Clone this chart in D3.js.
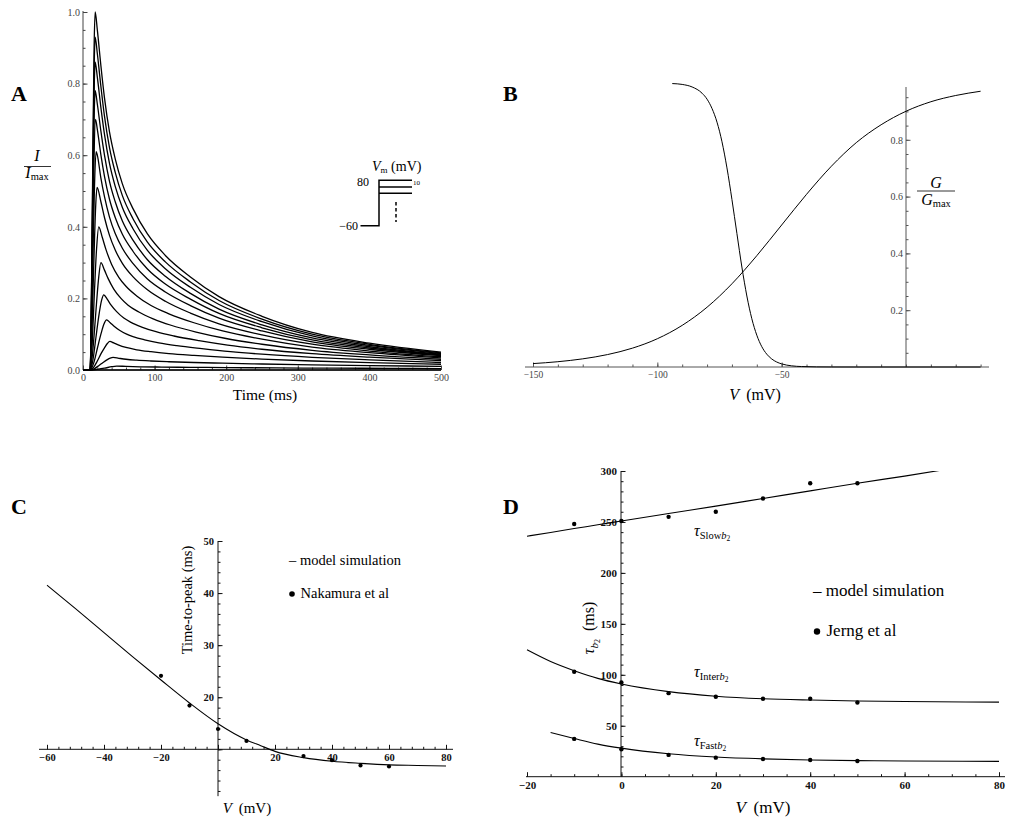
<!DOCTYPE html>
<html><head><meta charset="utf-8">
<script src="https://cdn.jsdelivr.net/npm/d3@7"></script>
<style>
body{margin:0;background:#fff}
svg{font-family:"Liberation Serif","Times New Roman",serif}
</style></head><body>
<svg id="fig" width="1015" height="821"></svg>
<script>
// ---- panel A: normalised currents for steps from -60 to 80 mV ----
var stepVoltages = [80,70,60,50,40,30,20,10,0,-10,-20,-30,-40,-50,-60];
var currentTraces = [
 [[0,0],[10,0],[12,0.25],[14,0.65],[15.5,0.9],[17,1.0],[20,0.95],[25,0.85],[30,0.76],[37,0.665],[45,0.59],[55,0.52],[70,0.45],[90,0.38],[115,0.32],[150,0.26],[190,0.205],[250,0.15],[320,0.105],[400,0.075],[500,0.05]],
 [[0,0],[10,0],[12,0.233],[14,0.605],[15.5,0.837],[17,0.93],[20,0.884],[25,0.792],[30,0.709],[37,0.621],[45,0.552],[55,0.487],[70,0.422],[90,0.357],[115,0.302],[150,0.246],[190,0.194],[250,0.142],[320,0.100],[400,0.0718],[500,0.048]],
 [[0,0],[10,0],[12,0.215],[14,0.559],[15.5,0.774],[17,0.86],[20,0.818],[25,0.733],[30,0.658],[37,0.577],[45,0.513],[55,0.454],[70,0.394],[90,0.334],[115,0.283],[150,0.231],[190,0.183],[250,0.135],[320,0.095],[400,0.0686],[500,0.046]],
 [[0,0],[10,0],[12,0.195],[14,0.507],[15.5,0.702],[17,0.78],[20,0.743],[25,0.667],[30,0.600],[37,0.527],[45,0.470],[55,0.416],[70,0.362],[90,0.308],[115,0.262],[150,0.214],[190,0.170],[250,0.126],[320,0.0896],[400,0.0649],[500,0.044]],
 [[0,0],[10,0],[12,0.16],[14,0.42],[15.5,0.60],[17.5,0.70],[20,0.672],[25,0.601],[30,0.541],[37,0.477],[45,0.426],[55,0.379],[70,0.331],[90,0.282],[115,0.240],[150,0.198],[190,0.158],[250,0.118],[320,0.0843],[400,0.0615],[500,0.042]],
 [[0,0],[10,0],[12,0.12],[14,0.33],[16,0.51],[18.3,0.61],[20,0.600],[25,0.536],[30,0.484],[37,0.427],[45,0.381],[55,0.340],[70,0.297],[90,0.254],[115,0.218],[150,0.180],[190,0.145],[250,0.109],[320,0.0787],[400,0.058],[500,0.040]],
 [[0,0],[10,0],[12,0.08],[14,0.22],[16,0.36],[18,0.47],[19.6,0.51],[25,0.470],[30,0.426],[37,0.376],[45,0.335],[55,0.298],[70,0.260],[90,0.224],[115,0.192],[150,0.159],[190,0.129],[250,0.098],[320,0.072],[400,0.053],[500,0.037]],
 [[0,0],[10,0],[13,0.08],[16,0.22],[19,0.34],[22,0.40],[27,0.370],[32,0.337],[40,0.295],[50,0.259],[60,0.234],[75,0.207],[95,0.180],[120,0.157],[155,0.132],[195,0.109],[250,0.086],[320,0.064],[400,0.0485],[500,0.034]],
 [[0,0],[10,0],[13,0.04],[16,0.11],[19,0.19],[22,0.26],[25,0.30],[30,0.279],[35,0.256],[43,0.226],[53,0.200],[63,0.181],[78,0.162],[98,0.143],[123,0.125],[158,0.106],[198,0.0887],[250,0.0719],[320,0.055],[400,0.0422],[500,0.030]],
 [[0,0],[10,0],[14,0.03],[18,0.09],[22,0.15],[26,0.195],[29,0.21],[34,0.197],[39,0.182],[47,0.163],[57,0.145],[67,0.133],[82,0.120],[102,0.107],[127,0.095],[162,0.082],[202,0.0696],[250,0.058],[320,0.0457],[400,0.0358],[500,0.026]],
 [[0,0],[10,0],[15,0.02],[20,0.06],[25,0.10],[29,0.127],[33,0.14],[38,0.132],[43,0.123],[51,0.111],[61,0.100],[71,0.0925],[86,0.0844],[106,0.0758],[131,0.068],[166,0.0597],[206,0.0513],[250,0.0441],[320,0.0354],[400,0.0283],[500,0.021]],
 [[0,0],[10,0],[15,0.008],[20,0.025],[25,0.045],[30,0.062],[34,0.074],[37.5,0.08],[43,0.0756],[50,0.0695],[60,0.063],[75,0.0565],[95,0.0511],[120,0.046],[155,0.0409],[195,0.036],[250,0.0305],[320,0.0252],[400,0.0207],[500,0.016]],
 [[0,0],[10,0],[16,0.004],[22,0.012],[28,0.021],[34,0.029],[38,0.033],[42,0.035],[50,0.0327],[60,0.030],[75,0.0274],[95,0.0251],[120,0.023],[155,0.021],[195,0.019],[250,0.0167],[320,0.0144],[400,0.0124],[500,0.010]],
 [[0,0],[10,0],[20,0.002],[30,0.005],[40,0.0092],[47,0.011],[60,0.010],[80,0.009],[110,0.0082],[150,0.0074],[200,0.0067],[270,0.0059],[350,0.0051],[430,0.0046],[500,0.004]],
 [[0,0],[500,0]]
];

// ---- panel B: activation / inactivation G/Gmax ----
var actV = [-150,-140,-130,-120,-110,-100,-90,-80,-70,-60,-50,-40,-30,-20,-10,0,10,20,30];
var actG = [0.012,0.0186,0.0287,0.0438,0.0664,0.0995,0.1466,0.2105,0.293,0.392,0.5,0.608,0.707,0.79,0.853,0.9005,0.934,0.956,0.971];
var inactV = [-94,-90,-86,-82,-80,-78,-76,-74,-72,-70,-68,-66,-64,-62,-60,-58,-56,-54,-52,-50,-46,-42,-36,-30,-20,0,30];
var inactG = [0.998,0.995,0.986,0.964,0.943,0.910,0.862,0.793,0.701,0.590,0.470,0.352,0.250,0.170,0.112,0.0717,0.0453,0.0283,0.0176,0.0109,0.0041,0.0016,0.0004,0.0001,0,0,0];

// ---- panel C: time-to-peak ----
var ttpModelV = [-60,-50,-40,-30,-20,-10,0,10,15,20,30,40,50,60,70,80];
var ttpModel = [41.5,37.0,32.4,27.8,23.3,18.9,14.9,11.8,10.7,9.6,8.4,7.7,7.3,7.0,6.9,6.8];
var ttpDataV = [-20,-10,0,10,30,40,50,60];
var ttpData = [24.1,18.4,13.9,11.6,8.7,7.9,6.9,6.7];

// ---- panel D: inactivation time constants ----
var tauModelV = [-20,-15,-10,-5,0,10,20,30,40,50,60,80];
var tauSlowModel = [236,239.7,243.5,247.2,251,258.3,265.5,273,280.5,288,295,310];
var tauInterModel = [124.5,113,104,96.5,91,83.5,79,76.5,75.2,74.3,73.8,73.2];
var tauFastModel = [null,43.3,37.5,32,28,22.5,19.3,17.5,16.4,15.8,15.4,15];
var tauDataV = [-10,0,10,20,30,40,50];
var tauSlowData = [248,251,255,260,273,288,288];
var tauInterData = [103,92.5,82,78.5,76.5,76.5,72.8];
var tauFastData = [37.1,27,21.4,18.7,17.4,16.4,15.4];

var SERIF = '"Liberation Serif","Times New Roman",serif';
var svg = d3.select('#fig');
svg.append('rect').attr('width',1015).attr('height',821).attr('fill','#fff');

function minus(d){ return d < 0 ? '\u2212' + Math.abs(d) : String(d); }

// horizontal axis: ticks point up, labels below
function hAxis(x, y0, ext, minors, majors, labels, fmt, st){
	var g = svg.append('g');
	g.append('line').attr('x1',ext[0]).attr('x2',ext[1]).attr('y1',y0).attr('y2',y0)
		.attr('stroke',st.color).attr('stroke-width',st.width || 1);
	var gm = g.append('g').attr('transform','translate(0,'+y0+')')
		.call(d3.axisBottom(x).tickValues(minors).tickSize(-2.5).tickFormat(''));
	var gM = g.append('g').attr('transform','translate(0,'+y0+')')
		.call(d3.axisBottom(x).tickValues(majors).tickSize(-4.5).tickPadding(st.pad)
			.tickFormat(function(d){ return labels.indexOf(d) >= 0 ? fmt(d) : ''; }));
	[gm,gM].forEach(function(s){
		s.select('.domain').remove();
		s.selectAll('line').attr('stroke',st.color);
		s.attr('font-family',SERIF).attr('font-size',st.size);
	});
	gM.selectAll('text').attr('fill',st.text).attr('font-weight',st.bold ? 'bold' : null);
}
// vertical axis: ticks point right, labels left
function vAxis(y, x0, ext, minors, majors, labels, fmt, st){
	var g = svg.append('g');
	g.append('line').attr('y1',ext[0]).attr('y2',ext[1]).attr('x1',x0).attr('x2',x0)
		.attr('stroke',st.color).attr('stroke-width',st.width || 1);
	var gm = g.append('g').attr('transform','translate('+x0+',0)')
		.call(d3.axisLeft(y).tickValues(minors).tickSize(-2.5).tickFormat(''));
	var gM = g.append('g').attr('transform','translate('+x0+',0)')
		.call(d3.axisLeft(y).tickValues(majors).tickSize(-4.5).tickPadding(st.pad)
			.tickFormat(function(d){ return labels.indexOf(d) >= 0 ? fmt(d) : ''; }));
	[gm,gM].forEach(function(s){
		s.select('.domain').remove();
		s.selectAll('line').attr('stroke',st.color);
		s.attr('font-family',SERIF).attr('font-size',st.size);
	});
	gM.selectAll('text').attr('fill',st.text).attr('font-weight',st.bold ? 'bold' : null);
}
function range(a,b,s){ var r=[]; for(var v=a; v<=b+1e-9; v+=s) r.push(+v.toFixed(4)); return r; }
function panelLabel(t,x,y){
	svg.append('text').attr('x',x).attr('y',y).attr('font-size',22).attr('font-weight','bold').text(t);
}

var thinStyle = {color:'#444', text:'#444', size:10, pad:4};
var boldStyle = {color:'#111', text:'#111', size:10.5, pad:4, bold:true};

// ================= A =================
var xA = d3.scaleLinear().domain([0,500]).range([83,441]);
var yA = d3.scaleLinear().domain([0,1]).range([370,12]);
panelLabel('A',11,101);
hAxis(xA, 370, [83,441], range(0,500,20), range(0,500,100), range(0,500,100), String, thinStyle);
vAxis(yA, 83, [370,11], range(0,1,0.05), range(0,1,0.2), range(0,1,0.2), d3.format('.1f'), {color:'#444',text:'#444',size:10,pad:3});
var lineA = d3.line().x(function(d){return xA(d[0]);}).y(function(d){return yA(d[1]);}).curve(d3.curveMonotoneX);
svg.append('g').selectAll('path').data(currentTraces).join('path')
	.attr('d',lineA).attr('fill','none').attr('stroke','#000').attr('stroke-width',1.3);

// y title I / Imax
svg.append('text').attr('x',37).attr('y',161).attr('text-anchor','middle').attr('font-size',16).attr('font-style','italic').text('I');
svg.append('line').attr('x1',24).attr('x2',51).attr('y1',166.5).attr('y2',166.5).attr('stroke','#000').attr('stroke-width',0.8);
var ima = svg.append('text').attr('x',37).attr('y',178).attr('text-anchor','middle').attr('font-size',16);
ima.append('tspan').attr('font-style','italic').text('I');
ima.append('tspan').attr('font-size',10.5).attr('dy',2).text('max');
svg.append('text').attr('x',265).attr('y',400).attr('text-anchor','middle').attr('font-size',15.5).text('Time (ms)');

// voltage protocol inset
var vm = svg.append('text').attr('x',372).attr('y',171).attr('font-size',14);
vm.append('tspan').attr('font-style','italic').text('V');
vm.append('tspan').attr('font-size',9).attr('dy',2).text('m');
vm.append('tspan').attr('dy',-2).text(' (mV)');
svg.append('text').attr('x',357).attr('y',186).attr('font-size',12).text('80');
svg.append('text').attr('x',358).attr('y',229.5).attr('text-anchor','end').attr('font-size',12).text('\u221260');
svg.append('text').attr('x',413).attr('y',185).attr('font-size',7).text('10');
var proto = svg.append('g').attr('stroke','#000').attr('stroke-width',1.5).attr('fill','none');
proto.append('path').attr('d','M360.5,225.7H379V180.3H412');
proto.append('path').attr('d','M379,187H412');
proto.append('path').attr('d','M379,193.3H412');
proto.append('line').attr('x1',396).attr('x2',396).attr('y1',202).attr('y2',222).attr('stroke-dasharray','3.5,2.5');

// ================= B =================
var xB = d3.scaleLinear().domain([-150,0]).range([533,906]);
var yB = d3.scaleLinear().domain([0,1]).range([367,83]);
panelLabel('B',503,101);
hAxis(xB, 367, [525,989], range(-150,30,10), [-150,-100,-50], [-150,-100,-50], minus, {color:'#555',text:'#444',size:9.5,pad:4});
vAxis(yB, 906, [367,87], range(0.05,0.95,0.05), [0.2,0.4,0.6,0.8], [0.2,0.4,0.6,0.8], d3.format('.1f'), {color:'#555',text:'#444',size:10,pad:3});
var lineB = d3.line().x(function(d){return xB(d[0]);}).y(function(d){return yB(d[1]);}).curve(d3.curveMonotoneX);
svg.append('path').datum(d3.zip(actV,actG)).attr('d',lineB).attr('fill','none').attr('stroke','#000').attr('stroke-width',1);
svg.append('path').datum(d3.zip(inactV,inactG)).attr('d',lineB).attr('fill','none').attr('stroke','#000').attr('stroke-width',1);
svg.append('text').attr('x',936).attr('y',188).attr('text-anchor','middle').attr('font-size',16).attr('font-style','italic').text('G');
svg.append('line').attr('x1',917).attr('x2',955).attr('y1',191).attr('y2',191).attr('stroke','#000').attr('stroke-width',0.8);
var gma = svg.append('text').attr('x',936).attr('y',205).attr('text-anchor','middle').attr('font-size',16);
gma.append('tspan').attr('font-style','italic').text('G');
gma.append('tspan').attr('font-size',10.5).attr('dy',2).text('max');
var vb = svg.append('text').attr('x',755).attr('y',400).attr('text-anchor','middle').attr('font-size',16);
vb.append('tspan').attr('font-style','italic').text('V');
vb.append('tspan').text('\u2009 (mV)');

// ================= C =================
var xC = d3.scaleLinear().domain([-60,80]).range([47,446]);
var yC = d3.scaleLinear().domain([10,50]).range([749.3,541]);
panelLabel('C',11,514);
hAxis(xC, 749.3, [39,453], range(-60,80,4), range(-60,80,20), [-60,-40,-20,20,40,60,80], minus, boldStyle);
vAxis(yC, 218, [yC(1),541], range(2,50,2), range(10,50,10), [20,30,40,50], String, boldStyle);
var lineC = d3.line().x(function(d){return xC(d[0]);}).y(function(d){return yC(d[1]);}).curve(d3.curveMonotoneX);
svg.append('path').datum(d3.zip(ttpModelV,ttpModel)).attr('d',lineC).attr('fill','none').attr('stroke','#000').attr('stroke-width',1.1);
svg.append('g').selectAll('circle').data(d3.zip(ttpDataV,ttpData)).join('circle')
	.attr('cx',function(d){return xC(d[0]);}).attr('cy',function(d){return yC(d[1]);}).attr('r',2.1).attr('fill','#000');
svg.append('text').attr('x',289).attr('y',565).attr('font-size',14.5).text('\u2013 model simulation');
svg.append('circle').attr('cx',292).attr('cy',594).attr('r',2.8).attr('fill','#000');
svg.append('text').attr('x',300.5).attr('y',598).attr('font-size',14.5).text('Nakamura et al');
svg.append('text').attr('transform','translate(192,600) rotate(-90)').attr('text-anchor','middle').attr('font-size',14.5).text('Time-to-peak (ms)');
var vc = svg.append('text').attr('x',247).attr('y',813).attr('text-anchor','middle').attr('font-size',15);
vc.append('tspan').attr('font-style','italic').text('V');
vc.append('tspan').text('\u2009 (mV)');

// ================= D =================
var xD = d3.scaleLinear().domain([-20,80]).range([527,999]);
var yD = d3.scaleLinear().domain([0,300]).range([776.7,471]);
panelLabel('D',503,514);
hAxis(xD, 776.7, [526,1005], range(-20,80,5), range(-20,80,20), [-20,0,20,40,60,80], minus, {color:'#111',text:'#111',size:11,pad:5,bold:true});
vAxis(yD, 621, [776.7,471], range(10,300,10), range(50,300,50), range(50,300,50), String, {color:'#111',text:'#111',size:11,pad:4,bold:true});
svg.append('clipPath').attr('id','clipD').append('rect').attr('x',500).attr('y',471).attr('width',515).attr('height',310);
var lineD = d3.line().defined(function(d){return d[1] != null;})
	.x(function(d){return xD(d[0]);}).y(function(d){return yD(d[1]);}).curve(d3.curveMonotoneX);
var gD = svg.append('g').attr('clip-path','url(#clipD)');
[tauSlowModel, tauInterModel, tauFastModel].forEach(function(s){
	gD.append('path').datum(d3.zip(tauModelV,s)).attr('d',lineD).attr('fill','none').attr('stroke','#000').attr('stroke-width',1.1);
});
[tauSlowData, tauInterData, tauFastData].forEach(function(s){
	svg.append('g').selectAll('circle').data(d3.zip(tauDataV,s)).join('circle')
		.attr('cx',function(d){return xD(d[0]);}).attr('cy',function(d){return yD(d[1]);}).attr('r',2.2).attr('fill','#000');
});
function tauLabel(sub, x, y){
	var t = svg.append('text').attr('x',x).attr('y',y).attr('font-size',16);
	t.append('tspan').attr('font-style','italic').text('\u03c4');
	t.append('tspan').attr('font-size',10.5).attr('dy',3).text(sub);
	t.append('tspan').attr('font-size',10.5).attr('font-style','italic').text('b');
	t.append('tspan').attr('font-size',7.5).attr('dy',2).text('2');
}
tauLabel('Slow',694,536);
tauLabel('Inter',694,677);
tauLabel('Fast',694,746);
svg.append('text').attr('x',813).attr('y',596).attr('font-size',17).text('\u2013 model simulation');
svg.append('circle').attr('cx',817).attr('cy',631.5).attr('r',3.2).attr('fill','#000');
svg.append('text').attr('x',826.5).attr('y',636).attr('font-size',17).text('Jerng et al');
var ty = svg.append('text').attr('transform','translate(594,628) rotate(-90)').attr('text-anchor','middle').attr('font-size',16);
ty.append('tspan').attr('font-style','italic').text('\u03c4');
ty.append('tspan').attr('font-size',11).attr('font-style','italic').attr('dy',4).text('b');
ty.append('tspan').attr('font-size',8).attr('dy',2).text('2');
ty.append('tspan').attr('dy',-6).text('\u2002(ms)');
var vd = svg.append('text').attr('x',763).attr('y',813).attr('text-anchor','middle').attr('font-size',17);
vd.append('tspan').attr('font-style','italic').text('V');
vd.append('tspan').text('\u2009 (mV)');
</script>
</body></html>
